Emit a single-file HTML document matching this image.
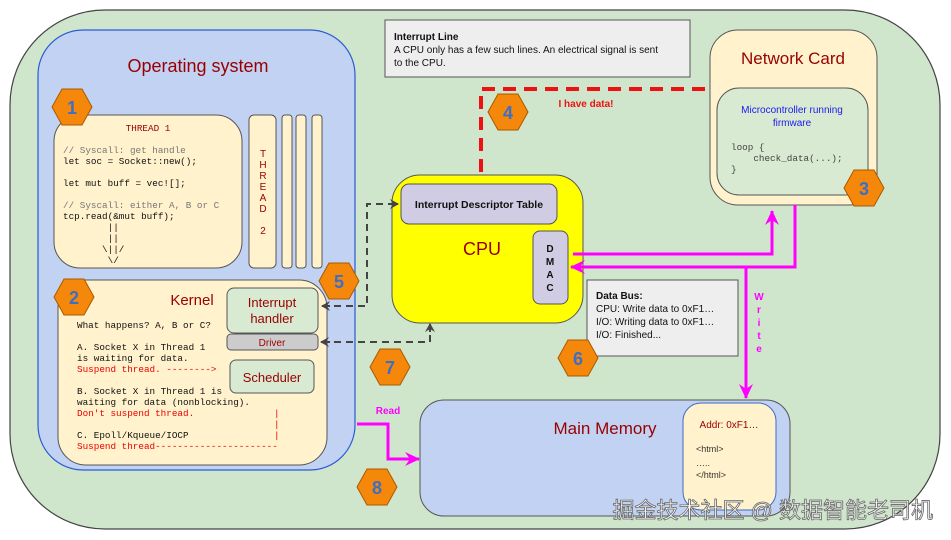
<!DOCTYPE html>
<html><head><meta charset="utf-8"><style>
body{margin:0;background:#fff}
svg{display:block}
text{white-space:pre}
.m{font-family:"Liberation Mono","DejaVu Sans Mono",monospace;font-size:9.3px}
.s{font-family:"Liberation Sans",Arial,sans-serif}
.hx{fill:#f5870b;stroke:#a85a00;stroke-width:1}
.hn{font-family:"Liberation Sans",sans-serif;font-weight:bold;font-size:18px;fill:#3d6fc4;text-anchor:middle}
</style></head><body>
<svg width="951" height="540" viewBox="0 0 951 540" xmlns="http://www.w3.org/2000/svg" xml:space="preserve">
<defs>
<marker id="ag" markerWidth="10" markerHeight="10" refX="8" refY="5" orient="auto" markerUnits="userSpaceOnUse"><path d="M0,0 L9,5 L0,10 L3,5z" fill="#444"/></marker>
<marker id="am" markerWidth="16" markerHeight="14" refX="14" refY="7" orient="auto" markerUnits="userSpaceOnUse"><path d="M0,0 L15,7 L0,14 L5,7z" fill="#ff00ff"/></marker>
</defs>
<rect x="10" y="10" width="930" height="519" rx="95" fill="#d0e6cc" stroke="#444" stroke-width="1.2"/>
<rect x="38" y="30" width="317" height="440" rx="45" fill="#c2d2f3" stroke="#2a5bd7" stroke-width="1.2"/>
<text x="198" y="72" class="s" font-size="18" fill="#990000" text-anchor="middle">Operating system</text>
<rect x="54" y="115" width="188" height="153" rx="26" fill="#fff2cc" stroke="#555"/>
<text x="148" y="131" class="m" fill="#990000" text-anchor="middle">THREAD 1</text>
<text class="m" fill="#777"><tspan x="63" y="153">// Syscall: get handle</tspan></text>
<text class="m" fill="#111"><tspan x="63" y="164">let soc = Socket::new();</tspan><tspan x="63" y="186">let mut buff = vec![];</tspan></text>
<text class="m" fill="#777"><tspan x="63" y="208">// Syscall: either A, B or C</tspan></text>
<text class="m" fill="#111"><tspan x="63" y="219">tcp.read(&amp;mut buff);</tspan><tspan x="63" y="230">        ||</tspan><tspan x="63" y="241">        ||</tspan><tspan x="63" y="252">       \||/</tspan><tspan x="63" y="263">        \/</tspan></text>
<rect x="249" y="115" width="27" height="153" rx="5" fill="#fff2cc" stroke="#555"/>
<text class="s" font-size="10" fill="#990000" text-anchor="middle"><tspan x="263" y="157">T</tspan><tspan x="263" y="168">H</tspan><tspan x="263" y="179">R</tspan><tspan x="263" y="190">E</tspan><tspan x="263" y="201">A</tspan><tspan x="263" y="212">D</tspan><tspan x="263" y="234">2</tspan></text>
<rect x="282" y="115" width="10" height="153" rx="3" fill="#fff2cc" stroke="#555"/>
<rect x="296" y="115" width="10" height="153" rx="3" fill="#fff2cc" stroke="#555"/>
<rect x="312" y="115" width="10" height="153" rx="3" fill="#fff2cc" stroke="#555"/>
<rect x="58" y="280" width="269" height="185" rx="28" fill="#fff2cc" stroke="#555"/>
<text x="192" y="305" class="s" font-size="15" fill="#990000" text-anchor="middle">Kernel</text>
<text class="m" fill="#111"><tspan x="77" y="328">What happens? A, B or C?</tspan><tspan x="77" y="350">A. Socket X in Thread 1</tspan><tspan x="77" y="361">is waiting for data.</tspan></text>
<text class="m" fill="#e00"><tspan x="77" y="372">Suspend thread. --------&gt;</tspan></text>
<text class="m" fill="#111"><tspan x="77" y="394">B. Socket X in Thread 1 is</tspan><tspan x="77" y="405">waiting for data (nonblocking).</tspan></text>
<text class="m" fill="#e00"><tspan x="77" y="416">Don't suspend thread.</tspan><tspan x="274" y="416">|</tspan><tspan x="274" y="427">|</tspan><tspan x="274" y="438">|</tspan><tspan x="77" y="449">Suspend thread----------------------</tspan></text>
<text class="m" fill="#111"><tspan x="77" y="438">C. Epoll/Kqueue/IOCP</tspan></text>
<rect x="227" y="288" width="91" height="45" rx="7" fill="#d9ead3" stroke="#555"/>
<text class="s" font-size="13" fill="#990000" text-anchor="middle"><tspan x="272" y="307">Interrupt</tspan><tspan x="272" y="323">handler</tspan></text>
<rect x="227" y="334" width="91" height="16" rx="4" fill="#cccccc" stroke="#555"/>
<text x="272" y="346" class="s" font-size="10" fill="#990000" text-anchor="middle">Driver</text>
<rect x="230" y="360" width="84" height="33" rx="6" fill="#d9ead3" stroke="#555"/>
<text x="272" y="382" class="s" font-size="13" fill="#990000" text-anchor="middle">Scheduler</text>
<rect x="385" y="20" width="305" height="57" fill="#eeeeee" stroke="#555"/>
<text class="s" font-size="10" fill="#111"><tspan x="394" y="40" font-weight="bold">Interrupt Line</tspan><tspan x="394" y="53">A CPU only has a few such lines. An electrical signal is sent</tspan><tspan x="394" y="66">to the CPU.</tspan></text>
<rect x="710" y="30" width="167" height="175" rx="28" fill="#fff2cc" stroke="#555"/>
<text x="793" y="64" class="s" font-size="17" fill="#990000" text-anchor="middle">Network Card</text>
<rect x="717" y="88" width="151" height="107" rx="22" fill="#d9ead3" stroke="#555"/>
<text class="s" font-size="10" fill="#1a1aee" text-anchor="middle"><tspan x="792" y="113">Microcontroller running</tspan><tspan x="792" y="126">firmware</tspan></text>
<text class="m" font-size="9" fill="#444"><tspan x="731" y="150">loop {</tspan><tspan x="731" y="161">    check_data(...);</tspan><tspan x="731" y="172">}</tspan></text>
<path d="M481,172 V89 H710" fill="none" stroke="#ee1111" stroke-width="4" stroke-dasharray="13,8"/>
<text x="586" y="107" class="s" font-size="10" font-weight="bold" fill="#ee1111" text-anchor="middle">I have data!</text>
<rect x="392" y="175" width="191" height="148" rx="28" fill="#ffff00" stroke="#555"/>
<rect x="401" y="184" width="156" height="40" rx="8" fill="#d0cce3" stroke="#555"/>
<text x="479" y="208" class="s" font-size="10.5" font-weight="bold" fill="#111" text-anchor="middle">Interrupt Descriptor Table</text>
<text x="482" y="255" class="s" font-size="18" fill="#990000" text-anchor="middle">CPU</text>
<rect x="533" y="231" width="35" height="73" rx="7" fill="#d0cce3" stroke="#555"/>
<text class="s" font-size="10" font-weight="bold" fill="#111" text-anchor="middle"><tspan x="550" y="252">D</tspan><tspan x="550" y="265">M</tspan><tspan x="550" y="278">A</tspan><tspan x="550" y="291">C</tspan></text>
<path d="M573,254 H772 V211" fill="none" stroke="#ff00ff" stroke-width="3" marker-end="url(#am)"/>
<path d="M795,205 V267 H571" fill="none" stroke="#ff00ff" stroke-width="3" marker-end="url(#am)"/>
<path d="M746,267 V398" fill="none" stroke="#ff00ff" stroke-width="3" marker-end="url(#am)"/>
<text class="s" font-size="10" font-weight="bold" fill="#ff00ff" text-anchor="middle"><tspan x="759" y="300">W</tspan><tspan x="759" y="313">r</tspan><tspan x="759" y="326">i</tspan><tspan x="759" y="339">t</tspan><tspan x="759" y="352">e</tspan></text>
<path d="M357,424 H388 V459 H419" fill="none" stroke="#ff00ff" stroke-width="3" marker-end="url(#am)"/>
<text x="388" y="414" class="s" font-size="10" font-weight="bold" fill="#ff00ff" text-anchor="middle">Read</text>
<rect x="587" y="280" width="151" height="76" fill="#eeeeee" stroke="#555"/>
<text class="s" font-size="10" fill="#111"><tspan x="596" y="299" font-weight="bold">Data Bus:</tspan><tspan x="596" y="312">CPU: Write data to 0xF1…</tspan><tspan x="596" y="325">I/O: Writing data to 0xF1…</tspan><tspan x="596" y="338">I/O: Finished...</tspan></text>
<rect x="420" y="400" width="370" height="116" rx="24" fill="#c2d2f3" stroke="#555"/>
<text x="605" y="434" class="s" font-size="17" fill="#990000" text-anchor="middle">Main Memory</text>
<rect x="683" y="403" width="93" height="107" rx="18" fill="#fff2cc" stroke="#3c6bc4"/>
<text x="729" y="428" class="s" font-size="10" fill="#990000" text-anchor="middle">Addr: 0xF1…</text>
<text class="s" font-size="9" fill="#333"><tspan x="696" y="452">&lt;html&gt;</tspan><tspan x="696" y="466">…..</tspan><tspan x="696" y="478">&lt;/html&gt;</tspan></text>
<path d="M322,306 H367 V204 H397" fill="none" stroke="#444" stroke-width="2" stroke-dasharray="7,5"/>
<path d="M330,306 H322" stroke="#444" stroke-width="2" marker-end="url(#ag)"/>
<path d="M390,204 H398" stroke="#444" stroke-width="2" marker-end="url(#ag)"/>
<path d="M322,342 H430 V326" fill="none" stroke="#444" stroke-width="2" stroke-dasharray="7,5"/>
<path d="M330,342 H321" stroke="#444" stroke-width="2" marker-end="url(#ag)"/>
<path d="M430,332 V324" stroke="#444" stroke-width="2" marker-end="url(#ag)"/>
<g>
<polygon class="hx" points="52,107 62,89 82,89 92,107 82,125 62,125"/><text x="72" y="114" class="hn">1</text>
<polygon class="hx" points="54,297 64,279 84,279 94,297 84,315 64,315"/><text x="74" y="304" class="hn">2</text>
<polygon class="hx" points="844,188 854,170 874,170 884,188 874,206 854,206"/><text x="864" y="195" class="hn">3</text>
<polygon class="hx" points="488,112 498,94 518,94 528,112 518,130 498,130"/><text x="508" y="119" class="hn">4</text>
<polygon class="hx" points="319,281 329,263 349,263 359,281 349,299 329,299"/><text x="339" y="288" class="hn">5</text>
<polygon class="hx" points="558,358 568,340 588,340 598,358 588,376 568,376"/><text x="578" y="365" class="hn">6</text>
<polygon class="hx" points="370,367 380,349 400,349 410,367 400,385 380,385"/><text x="390" y="374" class="hn">7</text>
<polygon class="hx" points="357,487 367,469 387,469 397,487 387,505 367,505"/><text x="377" y="494" class="hn">8</text>
</g>
<text x="933" y="518" font-family="'Liberation Sans','Noto Sans CJK SC',sans-serif" font-size="22" fill="#ffffff" stroke="#666" stroke-width="0.8" text-anchor="end">掘金技术社区 @ 数据智能老司机</text>
</svg>
</body></html>
